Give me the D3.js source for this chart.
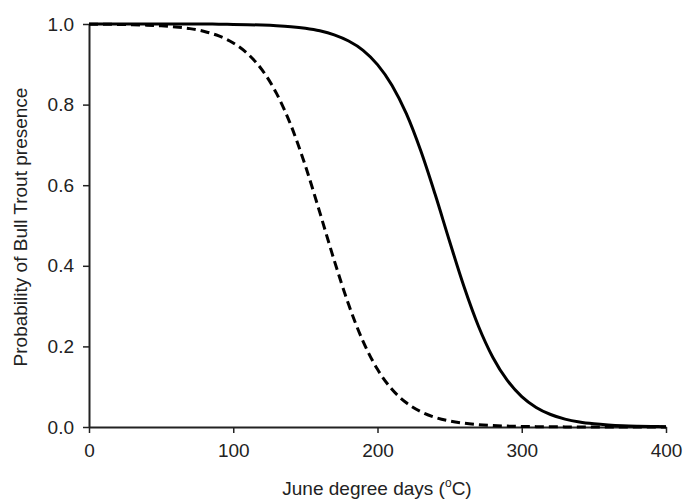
<!DOCTYPE html>
<html>
<head>
<meta charset="utf-8">
<script src="https://cdn.jsdelivr.net/npm/d3@7"></script>
<style>
  body { margin: 0; background: #fff; }
  svg text { font-family: "Liberation Sans", Arial, sans-serif; fill: #222; }
</style>
</head>
<body>
<svg id="chart" width="683" height="500"></svg>
<script>
// degree days sampled every 10
var degreeDays = [0,10,20,30,40,50,60,70,80,90,100,110,120,130,140,150,160,170,180,190,
                  200,210,220,230,240,250,260,270,280,290,300,310,320,330,340,350,360,370,380,390,400];

// solid curve
var solidProb = [1.000,1.000,1.000,1.000,1.000,1.000,1.000,0.9999,0.9998,0.9996,0.9990,0.9984,0.9974,0.9958,0.9933,
                 0.9893,0.9831,0.9731,0.9577,0.9347,0.8993,0.8482,0.7775,0.6854,0.5768,0.4603,0.3480,0.2501,0.1726,
                 0.1155,0.0756,0.0486,0.0310,0.0196,0.0123,0.0078,0.0049,0.0030,0.0019,0.0012,0.0007];

// dashed curve
var dashedProb = [0.9996,0.9993,0.9989,0.9983,0.9972,0.9955,0.9928,0.9885,0.9815,0.9704,0.9530,0.9262,0.8860,
                  0.8278,0.7485,0.6481,0.5325,0.4134,0.3037,0.2125,0.1431,0.0936,0.0601,0.0381,0.0239,0.0149,
                  0.0093,0.0058,0.0036,0.0022,0.0014,0.0009,0.0005,0.0003,0.0002,0.0001,0.0001,0.0000,0.0000,0.0000,0.0000];

var xTicks = [0, 100, 200, 300, 400];
var yTicks = [0, 0.2, 0.4, 0.6, 0.8, 1.0];

var svg = d3.select('#chart');
var plotLeft = 89, plotRight = 666, plotTop = 24, plotBottom = 427;

var x = d3.scaleLinear().domain([0, 400]).range([plotLeft, plotRight]);
var y = d3.scaleLinear().domain([0, 1]).range([plotBottom, plotTop]);

var xAxis = svg.append('g')
    .attr('transform', 'translate(0,' + plotBottom + ')')
    .call(d3.axisBottom(x).tickValues(xTicks).tickSize(6).tickSizeOuter(0).tickPadding(11));
var yAxis = svg.append('g')
    .attr('transform', 'translate(' + plotLeft + ',0)')
    .call(d3.axisLeft(y).tickValues(yTicks).tickSize(6).tickSizeOuter(0).tickPadding(9)
          .tickFormat(d3.format('.1f')));

[xAxis, yAxis].forEach(function (g) {
    g.select('.domain').attr('stroke', '#222').attr('stroke-width', 2);
    g.selectAll('.tick line').attr('stroke', '#222').attr('stroke-width', 1.5);
    g.selectAll('.tick text').attr('font-size', 19).attr('fill', '#222');
});

var line = d3.line()
    .x(function (d) { return x(d[0]); })
    .y(function (d) { return y(d[1]); })
    .curve(d3.curveMonotoneX);

svg.append('path')
    .datum(degreeDays.map(function (d, i) { return [d, dashedProb[i]]; }))
    .attr('fill', 'none')
    .attr('stroke', '#000')
    .attr('stroke-width', 3)
    .attr('stroke-dasharray', '9,5')
    .attr('d', line);

svg.append('path')
    .datum(degreeDays.map(function (d, i) { return [d, solidProb[i]]; }))
    .attr('fill', 'none')
    .attr('stroke', '#000')
    .attr('stroke-width', 3)
    .attr('d', line);

// axis titles
var xt = svg.append('text')
    .attr('x', 377).attr('y', 495)
    .attr('text-anchor', 'middle')
    .attr('font-size', 19);
xt.append('tspan').text('June degree days (');
xt.append('tspan').attr('font-size', 12).attr('dy', -8).text('o');
xt.append('tspan').attr('dy', 8).text('C)');

svg.append('text')
    .attr('transform', 'translate(27,' + 227 + ') rotate(-90)')
    .attr('text-anchor', 'middle')
    .attr('font-size', 19)
    .text('Probability of Bull Trout presence');
</script>
</body>
</html>
